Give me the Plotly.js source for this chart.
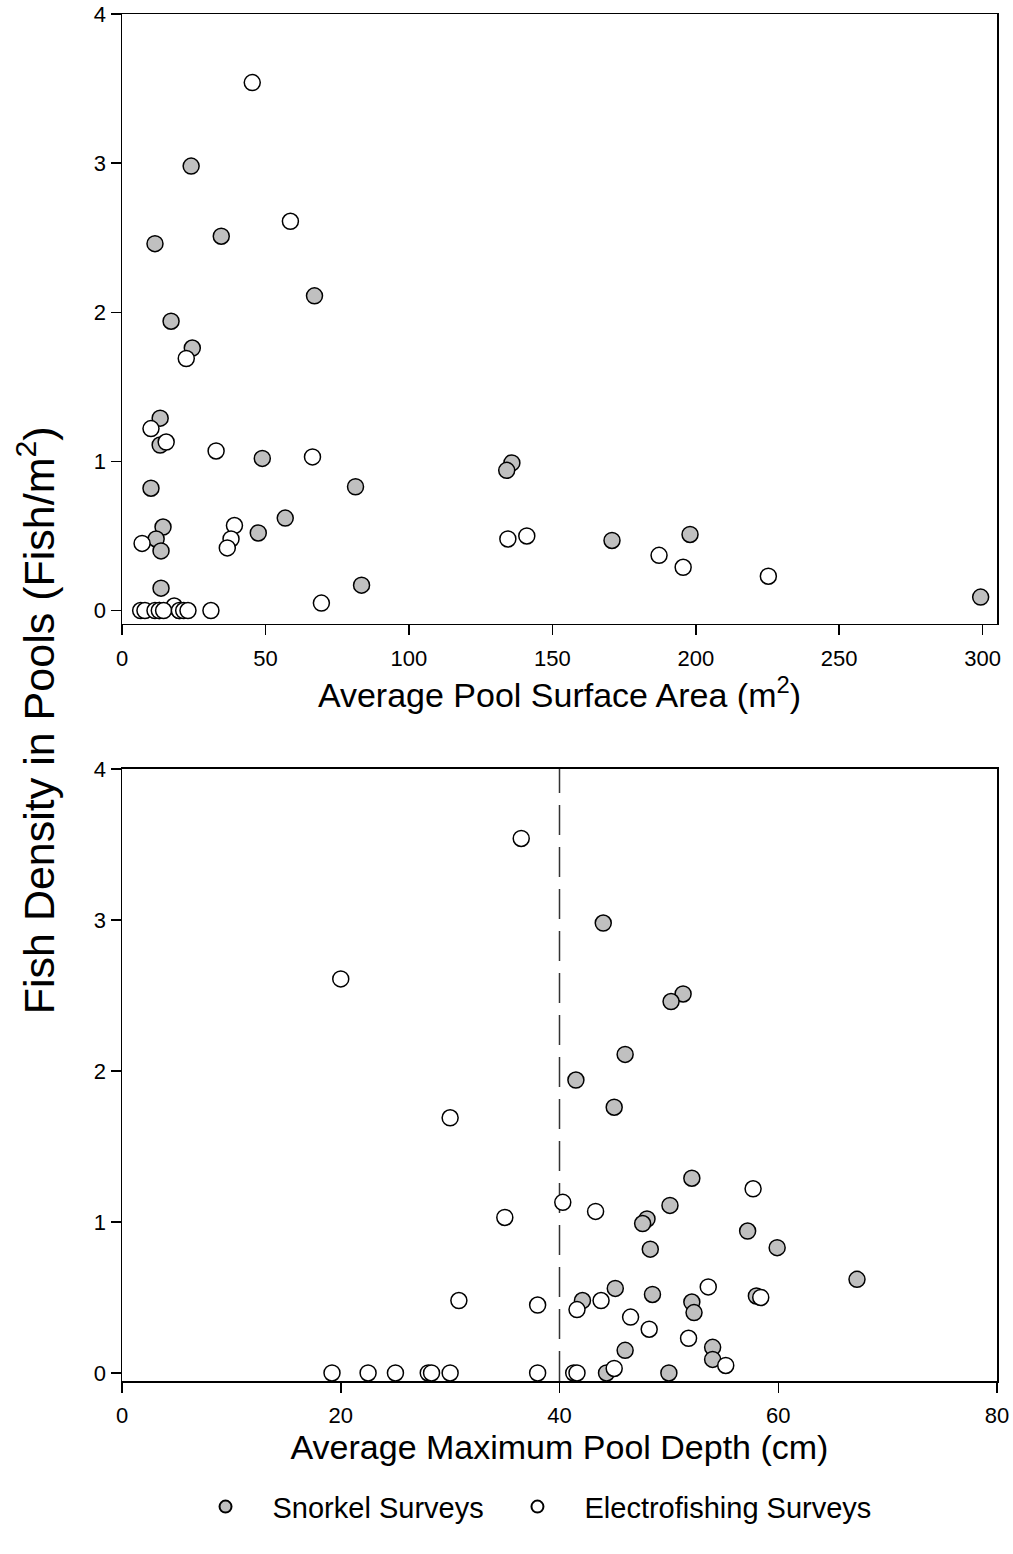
<!DOCTYPE html>
<html>
<head>
<meta charset="utf-8">
<script src="https://cdn.plot.ly/plotly-3.0.1.min.js"></script>
<style>html,body{margin:0;padding:0;background:#fff;}#chart{width:1013px;height:1554px;}</style>
</head>
<body>
<div id="chart"></div>
<script>
// Snorkel surveys (grey)
const snorkelDensity = [2.98, 2.51, 2.46, 2.11, 1.94, 1.76, 1.29, 1.11, 1.02, 0.99, 0.94, 0.83, 0.82, 0.62, 0.56, 0.52, 0.51, 0.48, 0.47, 0.40, 0.17, 0.15, 0.09, 0, 0];
const snorkelArea    = [24.1, 34.6, 11.5, 67.1, 17.1, 24.5, 13.3, 13.3, 48.9, 135.9, 134.1, 81.4, 10.1, 56.9, 14.3, 47.5, 198.0, 11.9, 170.8, 13.6, 83.5, 13.6, 299.3, 13.0, 20.0];
const snorkelDepth   = [44.0, 51.3, 50.2, 46.0, 41.5, 45.0, 52.1, 50.1, 48.0, 47.6, 57.2, 59.9, 48.3, 67.2, 45.1, 48.5, 58.0, 42.1, 52.1, 52.3, 54.0, 46.0, 54.0, 44.3, 50.0];

// Electrofishing surveys (white)
const electroDensity = [3.54, 2.61, 1.69, 1.22, 1.13, 1.07, 1.03, 0.57, 0.50, 0.48, 0.48, 0.45, 0.42, 0.37, 0.29, 0.23, 0.05, 0.03, 0, 0, 0, 0, 0, 0, 0, 0, 0];
const electroArea    = [45.4, 58.7, 22.4, 10.1, 15.4, 32.8, 66.4, 39.2, 141.1, 38.0, 134.5, 7.0, 36.7, 187.2, 195.6, 225.3, 69.5, 18.2, 6.5, 8.0, 11.5, 13.0, 14.5, 20.0, 21.5, 23.0, 31.0];
const electroDepth   = [36.5, 20.0, 30.0, 57.7, 40.3, 43.3, 35.0, 53.6, 58.4, 43.8, 30.8, 38.0, 41.6, 46.5, 48.2, 51.8, 55.2, 45.0, 19.2, 22.5, 25.0, 28.0, 28.3, 30.0, 38.0, 41.3, 41.6];

const areaTicks  = [0, 50, 100, 150, 200, 250, 300];
const depthTicks = [0, 20, 40, 60, 80];
const densityTicks = [0, 1, 2, 3, 4];
const depthThreshold = 40;

const seriesNames = ['Snorkel Surveys', 'Electrofishing Surveys'];
const xTitleTop = 'Average Pool Surface Area (m<sup>2</sup>)';
const xTitleBottom = 'Average Maximum Pool Depth (cm)';
const yTitle = 'Fish Density in Pools (Fish/m<sup>2</sup>)';

const FONT = 'Arial, "Liberation Sans", sans-serif';
const line = {color: '#000', width: 1.5};
const snorkelMarker = {symbol: 'circle', size: 16, color: '#c0c0c0', line: line};
const electroMarker = {symbol: 'circle', size: 16, color: '#ffffff', line: line};

const traces = [
  {type: 'scatter', mode: 'markers', x: snorkelArea, y: snorkelDensity, xaxis: 'x', yaxis: 'y',
   name: seriesNames[0], legendgroup: 's', legend: 'legend', marker: snorkelMarker, showlegend: true},
  {type: 'scatter', mode: 'markers', x: electroArea, y: electroDensity, xaxis: 'x', yaxis: 'y',
   name: seriesNames[1], legendgroup: 'e', legend: 'legend2', marker: electroMarker, showlegend: true},
  {type: 'scatter', mode: 'markers', x: snorkelDepth, y: snorkelDensity, xaxis: 'x2', yaxis: 'y2',
   name: seriesNames[0], legendgroup: 's', marker: snorkelMarker, showlegend: false},
  {type: 'scatter', mode: 'markers', x: electroDepth, y: electroDensity, xaxis: 'x2', yaxis: 'y2',
   name: seriesNames[1], legendgroup: 'e', marker: electroMarker, showlegend: false}
];

const axisCommon = {
  showgrid: false, zeroline: false, showline: true, linecolor: '#000', linewidth: 1.5,
  mirror: true, ticks: 'outside', ticklen: 10, tickwidth: 1.5, tickcolor: '#000',
  tickfont: {family: FONT, size: 22, color: '#000'}
};

const legendCommon = {
  orientation: 'h', xanchor: 'left', yanchor: 'middle', y: -0.092,
  font: {family: FONT, size: 29, color: '#000'}, itemsizing: 'constant', itemwidth: 84,
  bgcolor: 'rgba(0,0,0,0)'
};

const layout = {
  width: 1013, height: 1554,
  margin: {l: 122, r: 16, t: 14, b: 173, autoexpand: false},
  paper_bgcolor: '#fff', plot_bgcolor: '#fff',
  font: {family: FONT, color: '#000'},
  xaxis: Object.assign({}, axisCommon, {
    domain: [0, 1], anchor: 'y', range: [0, 305], tickvals: areaTicks, ticklabelstandoff: 4,
    title: {text: xTitleTop, font: {family: FONT, size: 34}, standoff: 4}
  }),
  yaxis: Object.assign({}, axisCommon, {
    domain: [0.5538, 1], anchor: 'x', range: [-0.09, 4], tickvals: densityTicks
  }),
  xaxis2: Object.assign({}, axisCommon, {
    domain: [0, 1], anchor: 'y2', range: [0, 80], tickvals: depthTicks, ticklabelstandoff: 4,
    title: {text: xTitleBottom, font: {family: FONT, size: 34}, standoff: 6}
  }),
  yaxis2: Object.assign({}, axisCommon, {
    domain: [0, 0.4477], anchor: 'x2', range: [-0.053, 4], tickvals: densityTicks
  }),
  shapes: [{
    type: 'line', xref: 'x2', yref: 'y2 domain', x0: depthThreshold, x1: depthThreshold, y0: 0, y1: 1,
    line: {color: '#333', width: 1.5, dash: '30px,12px'}, layer: 'below'
  }],
  annotations: [{
    xref: 'paper', yref: 'paper', x: -0.098, y: 0.4835, xanchor: 'center', yanchor: 'middle',
    text: yTitle, textangle: -90, showarrow: false, font: {family: FONT, size: 43, color: '#000'}
  }],
  showlegend: true,
  legend: Object.assign({}, legendCommon, {x: 0.0646}),
  legend2: Object.assign({}, legendCommon, {x: 0.4211})
};

Plotly.newPlot('chart', traces, layout, {staticPlot: true, displayModeBar: false});
</script>
</body>
</html>
